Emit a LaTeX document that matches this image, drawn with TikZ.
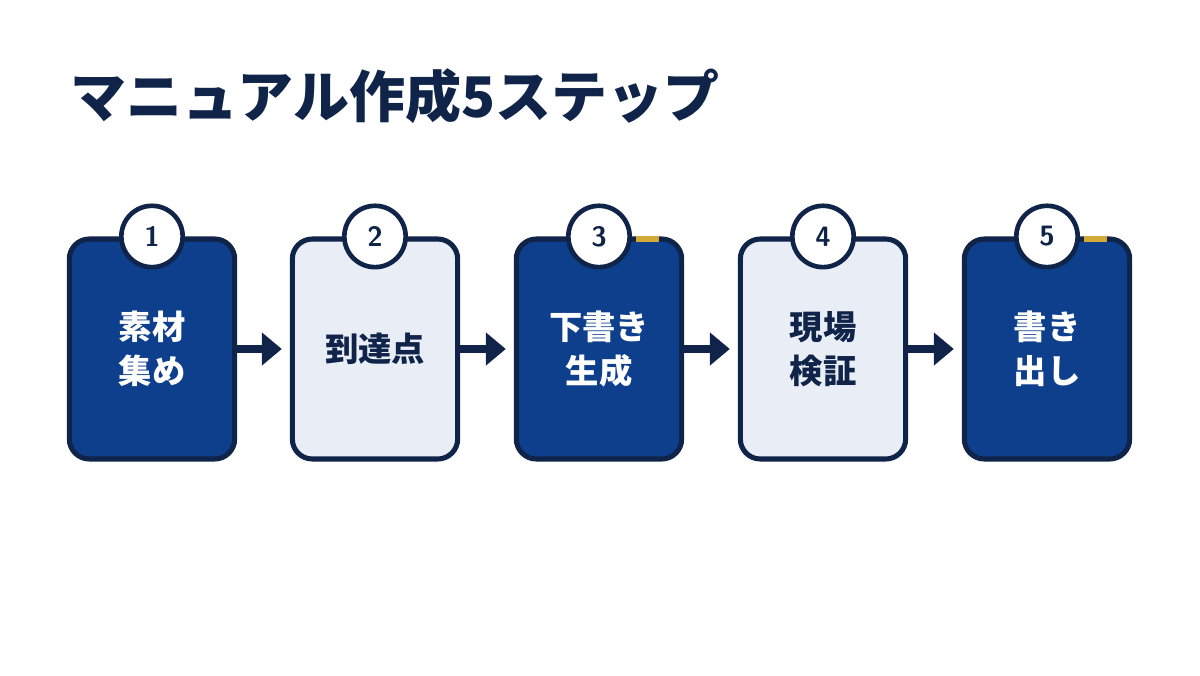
\documentclass[tikz,border=0pt]{standalone}
\usepackage{fontspec}
\newfontfamily\cjk{Noto Sans CJK JP}
\usetikzlibrary{arrows.meta}
\definecolor{navy}{HTML}{0F2448}
\definecolor{blu}{HTML}{0E3F8C}
\definecolor{lite}{HTML}{E9EEF6}
\definecolor{gold}{HTML}{D4A937}
\begin{document}
\begin{tikzpicture}[x=0.75pt,y=-0.75pt,
  box/.style={draw=navy,line width=3.8pt,rounded corners=15pt,minimum width=124pt,minimum height=165pt,inner sep=0pt,align=center,font=\cjk\bfseries\fontsize{25}{33}\selectfont},
  dark/.style={box,fill=blu,text=white},
  light/.style={box,fill=lite,text=navy},
  num/.style={circle,draw=navy,line width=3.5pt,fill=white,minimum size=46pt,inner sep=0pt,text=navy,font=\sffamily\bfseries\fontsize{21}{21}\selectfont},
  arr/.style={draw=navy,line width=5.5pt,shorten >=6pt,-{Triangle[length=15pt,width=24pt]}}]
\useasboundingbox (0,0) rectangle (1200,675);
\node[anchor=west,text=navy,font=\cjk\bfseries\fontsize{42}{44}\selectfont] (t) at (66,96) {マニュアル作成5ステップ};
\node[dark]  (b1) at (152,349) {素材\\集め};
\node[light] (b2) at (375,349) {到達点};
\node[dark]  (b3) at (599,349) {下書き\\生成};
\node[light] (b4) at (823,349) {現場\\検証};
\node[dark]  (b5) at (1047,349) {書き\\出し};
\fill[gold] (636,235.5) rectangle (659,241.5);
\fill[gold] (1084,235.5) rectangle (1107,241.5);
\foreach \i in {1,...,5} {\node[num] (n\i) at (b\i.north) {\i};}
\draw[arr] (b1.east) -- (b2.west);
\draw[arr] (b2.east) -- (b3.west);
\draw[arr] (b3.east) -- (b4.west);
\draw[arr] (b4.east) -- (b5.west);
\end{tikzpicture}
\end{document}
